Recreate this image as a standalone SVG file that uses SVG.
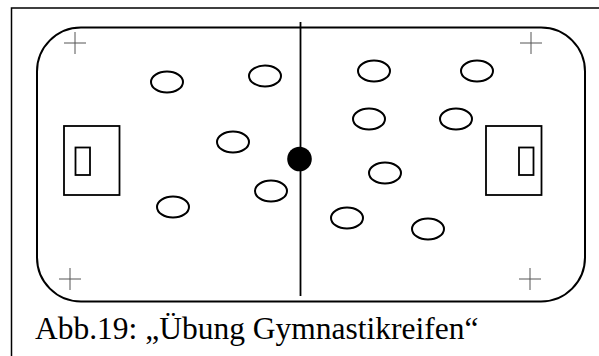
<svg xmlns="http://www.w3.org/2000/svg" width="599" height="356" viewBox="0 0 599 356">
<style>
.hoop{fill:none;stroke:#000;stroke-width:2}
.box{fill:none;stroke:#000;stroke-width:1.8}
.cross{stroke:#555;stroke-width:1}
.cap{font-family:"Liberation Serif",serif;font-size:31.5px;fill:#000}
</style>
<rect x="0" y="0" width="599" height="356" fill="#fff"/>
<g id="frame"><path d="M11.5,370 V8 H610" fill="none" stroke="#000" stroke-width="1.5"/></g>
<g id="field"><rect x="37" y="27.5" width="548" height="274" rx="44" ry="44" fill="none" stroke="#000" stroke-width="2"/></g>
<g id="midline"><line x1="300.5" y1="22" x2="300.5" y2="296" stroke="#000" stroke-width="1.8"/></g>
<g id="ball"><circle cx="299.5" cy="159" r="12.3" fill="#000"/></g>
<g id="goal-left"><rect class="box" x="64" y="126" width="55.5" height="69"/><rect class="box" x="75.5" y="147.5" width="14.5" height="27.5"/></g>
<g id="goal-right"><rect class="box" x="486" y="126" width="55.5" height="69"/><rect class="box" x="519" y="147.5" width="14.5" height="27.5"/></g>
<g id="crosses">
<path class="cross" d="M64,43 H86 M75,32 V54"/>
<path class="cross" d="M520,43 H542 M531,32 V54"/>
<path class="cross" d="M59,279 H81 M70,268 V290"/>
<path class="cross" d="M519,279 H541 M530,268 V290"/>
</g>
<g id="hoops">
<ellipse class="hoop" cx="167" cy="82" rx="16" ry="10.5"/>
<ellipse class="hoop" cx="265" cy="76" rx="16" ry="10.5"/>
<ellipse class="hoop" cx="233" cy="142" rx="16" ry="10.5"/>
<ellipse class="hoop" cx="374" cy="71" rx="16" ry="10.5"/>
<ellipse class="hoop" cx="477" cy="71" rx="16" ry="10.5"/>
<ellipse class="hoop" cx="369" cy="119" rx="16" ry="10.5"/>
<ellipse class="hoop" cx="456" cy="119" rx="16" ry="10.5"/>
<ellipse class="hoop" cx="385" cy="173" rx="16" ry="10.5"/>
<ellipse class="hoop" cx="173" cy="207" rx="16" ry="10.5"/>
<ellipse class="hoop" cx="271" cy="191" rx="16" ry="10.5"/>
<ellipse class="hoop" cx="347" cy="218" rx="16" ry="10.5"/>
<ellipse class="hoop" cx="428" cy="229" rx="16" ry="10.5"/>
</g>
<text class="cap" x="35" y="338.5">Abb.19: „Übung Gymnastikreifen“</text>
</svg>
